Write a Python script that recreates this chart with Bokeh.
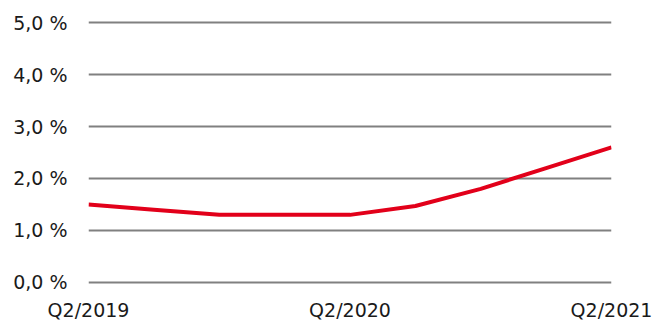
from bokeh.plotting import figure
from bokeh.models import FixedTicker, Range1d
from bokeh.embed import file_html
from bokeh.resources import INLINE

quarters = ["Q2/2019", "Q3/2019", "Q4/2019", "Q1/2020", "Q2/2020",
            "Q3/2020", "Q4/2020", "Q1/2021", "Q2/2021"]
values = [1.5, 1.4, 1.3, 1.3, 1.3, 1.47, 1.8, 2.2, 2.6]
y_ticks = [0, 1, 2, 3, 4, 5]
y_tick_labels = ["0,0 %", "1,0 %", "2,0 %", "3,0 %", "4,0 %", "5,0 %"]
x_tick_idx = [0, 4, 8]

x = list(range(len(quarters)))

p = figure(width=667, height=325, output_backend="svg", toolbar_location=None,
           x_range=Range1d(0, 8), y_range=Range1d(-0.04, 5.04),
           min_border_left=88, min_border_right=56, min_border_top=20,
           min_border_bottom=41)
p.outline_line_color = None
p.background_fill_color = "white"
p.border_fill_color = "white"

p.line(x, values, line_color="#e2001a", line_width=4)

font = "DejaVu Sans"
p.yaxis.ticker = FixedTicker(ticks=y_ticks)
p.yaxis.major_label_overrides = {t: l for t, l in zip(y_ticks, y_tick_labels)}
p.xaxis.ticker = FixedTicker(ticks=x_tick_idx)
p.xaxis.major_label_overrides = {i: quarters[i] for i in x_tick_idx}

for ax in (p.xaxis, p.yaxis):
    ax.axis_line_color = None
    ax.major_tick_line_color = None
    ax.minor_tick_line_color = None
    ax.major_label_text_font = font
    ax.major_label_text_font_size = "19px"
    ax.major_label_text_color = "#1a1a1a"
p.yaxis.major_label_standoff = 15
p.xaxis.major_label_standoff = 8

p.xgrid.grid_line_color = None
p.ygrid.ticker = FixedTicker(ticks=y_ticks)
p.ygrid.grid_line_color = "#808080"
p.ygrid.grid_line_width = 2

open("out.html", "w").write(file_html(p, INLINE))
